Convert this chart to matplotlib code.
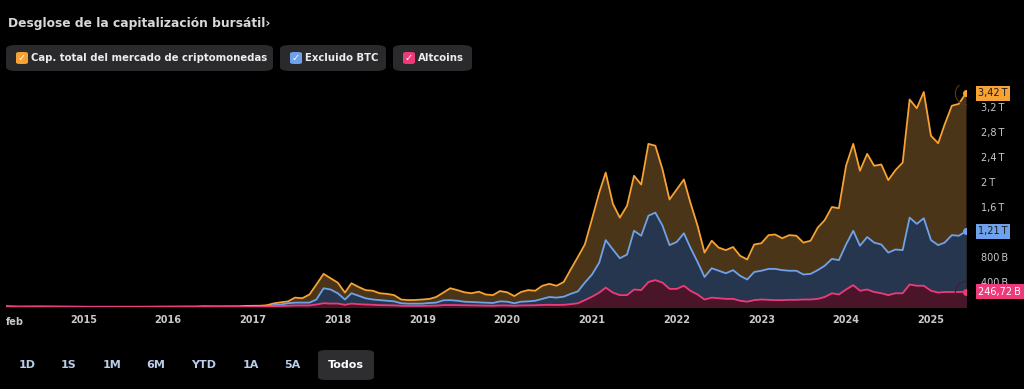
import matplotlib.pyplot as plt
from matplotlib.patches import FancyBboxPatch
import pandas as pd

# monthly values, feb 2014 .. jun 2025, in trillions USD
total = [
    0.012, 0.009, 0.007, 0.008, 0.009, 0.009, 0.008, 0.007, 0.006, 0.006, 0.005,
    0.004, 0.0035, 0.0035, 0.0033, 0.0033, 0.0035, 0.0043, 0.0037, 0.0037, 0.0045, 0.0055, 0.0068,
    0.0065, 0.0066, 0.0075, 0.0078, 0.0083, 0.012, 0.011, 0.0105, 0.011, 0.012, 0.012, 0.0175,
    0.018, 0.02, 0.028, 0.058, 0.075, 0.09, 0.15, 0.14, 0.2, 0.36, 0.53, 0.46,
    0.39, 0.23, 0.38, 0.32, 0.27, 0.26, 0.22, 0.21, 0.19, 0.12, 0.11, 0.112,
    0.12, 0.13, 0.16, 0.23, 0.30, 0.27, 0.235, 0.22, 0.245, 0.20, 0.19, 0.255,
    0.235, 0.175, 0.24, 0.27, 0.26, 0.34, 0.37, 0.34, 0.40, 0.60, 0.80, 1.0,
    1.41, 1.83, 2.15, 1.65, 1.43, 1.62, 2.10, 1.96, 2.61, 2.58, 2.20, 1.72,
    1.88, 2.04, 1.67, 1.30, 0.87, 1.06, 0.95, 0.91, 0.96, 0.82, 0.76, 1.0,
    1.02, 1.15, 1.16, 1.10, 1.15, 1.14, 1.03, 1.06, 1.27, 1.39, 1.60, 1.58,
    2.26, 2.61, 2.18, 2.45, 2.26, 2.28, 2.03, 2.19, 2.31, 3.32, 3.18, 3.44,
    2.74, 2.62, 2.92, 3.22, 3.25, 3.42,
]
excl_btc = [
    0.0015, 0.0012, 0.001, 0.0012, 0.0012, 0.0012, 0.001, 0.001, 0.001, 0.001, 0.0008,
    0.0006, 0.0006, 0.0007, 0.0006, 0.0006, 0.0006, 0.0006, 0.0006, 0.0005, 0.0005, 0.0005, 0.0006,
    0.001, 0.0015, 0.0025, 0.002, 0.002, 0.0025, 0.002, 0.0018, 0.0018, 0.0016, 0.0015, 0.0018,
    0.003, 0.004, 0.008, 0.03, 0.04, 0.06, 0.07, 0.07, 0.07, 0.12, 0.30, 0.28,
    0.22, 0.12, 0.22, 0.18, 0.14, 0.12, 0.11, 0.10, 0.09, 0.06, 0.053, 0.053,
    0.054, 0.064, 0.07, 0.107, 0.11, 0.10, 0.085, 0.08, 0.075, 0.07, 0.064, 0.09,
    0.085, 0.06, 0.085, 0.09, 0.10, 0.13, 0.16, 0.15, 0.165, 0.21, 0.25, 0.39,
    0.52, 0.71, 1.07, 0.92, 0.78, 0.84, 1.22, 1.14, 1.46, 1.51, 1.30, 0.99,
    1.04, 1.18, 0.95, 0.72, 0.48, 0.62, 0.58, 0.54, 0.59, 0.50, 0.44, 0.56,
    0.58, 0.61, 0.61, 0.59, 0.58, 0.58, 0.52, 0.53, 0.59, 0.66, 0.77, 0.75,
    1.0, 1.22, 0.98, 1.12, 1.03, 1.0, 0.87, 0.92, 0.91, 1.43, 1.33, 1.42,
    1.07, 0.99, 1.03, 1.15, 1.14, 1.21,
]
altcoins = [
    0.0012, 0.001, 0.0008, 0.001, 0.001, 0.001, 0.0008, 0.0008, 0.0008, 0.0008, 0.0007,
    0.0005, 0.0005, 0.0006, 0.0005, 0.0005, 0.0005, 0.0005, 0.0005, 0.0004, 0.0004, 0.0004, 0.0005,
    0.0008, 0.0008, 0.0012, 0.001, 0.001, 0.001, 0.001, 0.0009, 0.0009, 0.0009, 0.0009, 0.001,
    0.002, 0.003, 0.005, 0.012, 0.015, 0.02, 0.025, 0.025, 0.025, 0.04, 0.06, 0.055,
    0.055, 0.035, 0.055, 0.045, 0.04, 0.035, 0.03, 0.028, 0.026, 0.02, 0.018, 0.018,
    0.018, 0.02, 0.022, 0.03, 0.032, 0.03, 0.027, 0.025, 0.024, 0.022, 0.02, 0.025,
    0.025, 0.02, 0.025, 0.026, 0.028, 0.033, 0.035, 0.033, 0.035, 0.045, 0.06, 0.11,
    0.165, 0.23, 0.31, 0.23, 0.19, 0.19, 0.28, 0.27, 0.40, 0.43, 0.39, 0.29,
    0.29, 0.34, 0.26, 0.20, 0.12, 0.15, 0.14, 0.13, 0.13, 0.10, 0.085, 0.11,
    0.12, 0.115, 0.11, 0.11, 0.115, 0.115, 0.12, 0.12, 0.13, 0.16, 0.22, 0.20,
    0.28, 0.35, 0.26, 0.28, 0.24, 0.22, 0.19, 0.22, 0.22, 0.36, 0.34, 0.34,
    0.26, 0.23, 0.24, 0.24, 0.24, 0.2467,
]
dates = pd.date_range("2014-02-01", periods=len(total), freq="MS")

year_ticks = list(range(2015, 2026))
# 1,2 T is hidden behind the 1,21 T badge in the original
y_ticks = [0.4, 0.8, 1.6, 2.0, 2.4, 2.8, 3.2]
y_labels = ["400\u2009B", "800\u2009B", "1,6\u2009T", "2\u2009T", "2,4\u2009T", "2,8\u2009T", "3,2\u2009T"]
series = ["Cap. total del mercado de criptomonedas", "Excluido BTC", "Altcoins"]
badges = ["3,42\u2009T", "1,21\u2009T", "246,72\u2009B"]
ranges = ["1D", "1S", "1M", "6M", "YTD", "1A", "5A", "Todos"]

line_c = ["#f7a234", "#6fa2ea", "#ee3a7a"]
fill_c = ["#4b3518", "#27364f", "#4a1529"]
badge_txt = ["#1a1a1a", "#1a1a1a", "white"]

W, H = 1024, 389
fig = plt.figure(figsize=(W / 100, H / 100), dpi=100, facecolor="black")
ax = fig.add_axes([6 / W, 1 - 307 / H, 960 / W, 222 / H])
ax.set_facecolor("black")

for vals, lc, fc in zip([total, excl_btc, altcoins], line_c, fill_c):
    ax.fill_between(dates, 0, vals, color=fc, lw=0)
    ax.plot(dates, vals, color=lc, lw=1.3)
for vals, lc in zip([total, excl_btc, altcoins], line_c):
    ax.plot(dates[-1], vals[-1], "o", color=lc, ms=4)

# faint hover rings
ax.plot(dates[-1], total[-1], "o", ms=16, mfc="none", mec="#5a3a10", mew=0.8)
ax.plot(dates[-1], altcoins[-1], "o", ms=16, mfc="none", mec="#4a1a2a", mew=0.8)

ax.set_xlim(dates[0], dates[-1])
ax.set_ylim(0, 222 / 62.5)
for s in ax.spines.values():
    s.set_visible(False)

ax.set_xticks([pd.Timestamp(f"{y}-01-01") for y in year_ticks])
ax.set_xticklabels([str(y) for y in year_ticks], fontsize=7, color="#c9c9c9", fontweight="bold")
ax.tick_params(axis="x", length=0, pad=6)
ax.text(0, -0.045, "feb", transform=ax.transAxes, ha="left", va="top",
        fontsize=7, color="#c9c9c9", fontweight="bold")

ax.yaxis.tick_right()
ax.set_yticks(y_ticks)
ax.set_yticklabels(y_labels, fontsize=7, color="#c9c9c9")
ax.tick_params(axis="y", length=0, pad=11)

for vals, lc, tc, lab in zip([total, excl_btc, altcoins], line_c, badge_txt, badges):
    ax.annotate(lab, xy=(1, vals[-1]), xycoords=("axes fraction", "data"),
                xytext=(9, 0), textcoords="offset points", ha="left", va="center",
                fontsize=7, color=tc,
                bbox=dict(boxstyle="square,pad=0.25", fc=lc, ec="none"))

# title
fig.text(8 / W, 1 - 24 / H, "Desglose de la capitalización bursátil\u203a", fontsize=8.8,
         fontweight="bold", color="#d8d8d8", va="center", ha="left")

# legend chips
chips = [(6, 273), (280, 386), (393, 472)]
for (x0, x1), lab, c in zip(chips, series, line_c):
    fig.patches.append(FancyBboxPatch((x0 / W, 1 - 71 / H), (x1 - x0) / W, 26 / H,
                                      boxstyle="round,pad=0,rounding_size=0.01",
                                      transform=fig.transFigure, fc="#2a2a2d", ec="none"))
    fig.patches.append(FancyBboxPatch(((x0 + 10) / W, 1 - 64 / H), 12 / W, 12 / H,
                                      boxstyle="round,pad=0,rounding_size=0.004",
                                      transform=fig.transFigure, fc=c, ec="none"))
    fig.text((x0 + 16) / W, 1 - 58 / H, "\u2713", fontsize=7, color="white",
             ha="center", va="center", fontweight="bold")
    fig.text((x0 + 25) / W, 1 - 58 / H, lab, fontsize=7.3, fontweight="bold",
             color="#ececec", ha="left", va="center")

# range buttons
rx = [27, 69, 112, 156, 204, 251, 292, 346]
fig.patches.append(FancyBboxPatch((318 / W, 1 - 380 / H), 56 / W, 30 / H,
                                  boxstyle="round,pad=0,rounding_size=0.008",
                                  transform=fig.transFigure, fc="#2e2e31", ec="none"))
for x, lab in zip(rx, ranges):
    fig.text(x / W, 1 - 365 / H, lab, fontsize=8, fontweight="bold",
             color="white" if lab == "Todos" else "#b9cce8", ha="center", va="center")

fig.savefig("out.png", dpi=100, facecolor="black")
